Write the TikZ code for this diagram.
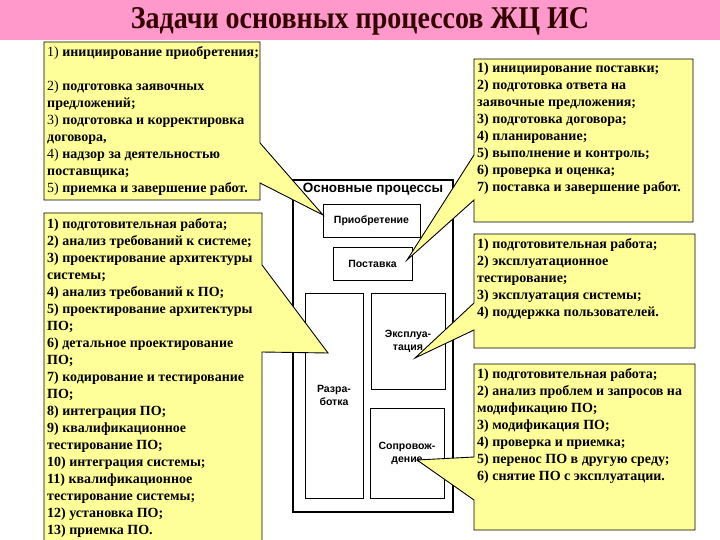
\documentclass[tikz,border=0pt]{standalone}
\usepackage{fontspec}
\setmainfont{Liberation Serif}
\setsansfont{Liberation Sans}
\usetikzlibrary{positioning}

\definecolor{titlepink}{RGB}{255,153,204}
\definecolor{titleink}{RGB}{51,0,0}
\definecolor{noteyellow}{RGB}{255,255,153}

\begin{document}
\begin{tikzpicture}[
    x=1pt, y=-1pt,
    callout/.style={
        fill=noteyellow,
        draw=black,
        line width=0.9pt,
        line join=miter
    },
    notetext/.style={
        anchor=north west,
        align=left,
        inner sep=0pt,
        font=\fontsize{14}{17}\selectfont\bfseries
    },
    procbox/.style={
        draw=black,
        fill=white,
        line width=1pt,
        inner sep=0pt,
        align=center,
        font=\sffamily\bfseries\fontsize{10.5}{13}\selectfont
    },
    outerbox/.style={procbox, line width=2pt},
    titletext/.style={
        text=titleink,
        font=\fontsize{28}{30}\selectfont\bfseries
    }
]
\useasboundingbox (0,0) rectangle (720,540);

% title bar
\fill[titlepink] (0,0) rectangle (720,40);
\node[titletext] (title) at (360,21) {\scalebox{1}[1.13]{Задачи основных процессов ЖЦ ИС}};

% main processes scheme
\node[outerbox, minimum width=160, minimum height=332] (mainproc) at (373,346) {};
\node[font=\sffamily\bfseries\fontsize{13.5}{15}\selectfont, below=1pt of mainproc.north] (maintitle) {Основные процессы};
\node[procbox, minimum width=97, minimum height=32] (acq) at (371.5,221) {Приобретение};
\node[procbox, minimum width=79, minimum height=33] (supply) at (372.5,263.5) {Поставка};
\node[procbox, minimum width=58, minimum height=205] (dev) at (334,395.5) {Разра-\\ботка};
\node[procbox, minimum width=74, minimum height=96] (oper) at (408,341) {Эксплуа-\\тация};
\node[procbox, minimum width=74, minimum height=90] (maint) at (407,453) {Сопровож-\\дение};

% callout tips
\coordinate (tipacq) at (323,215);
\coordinate (tipdev) at (328,353);
\coordinate (tipsup) at (407,260);
\coordinate (tipoper) at (415,358);
\coordinate (tipmaint) at (417,460);

% left callouts
\draw[callout] (44,42) -- (260,42) -- (260,143) -- (tipacq) -- (260,183)
    -- (260,200) -- (44,200) -- cycle;
\node[notetext] (acqnote) at (47,46) {%
{\mdseries 1)} инициирование приобретения;\\
\mbox{}\\
{\mdseries 2)} подготовка заявочных\\
предложений;\\
{\mdseries 3)} подготовка и корректировка\\
договора,\\
{\mdseries 4)} надзор за деятельностью\\
поставщика;\\
{\mdseries 5)} приемка и завершение работ.};

\draw[callout] (44,213) -- (262,213) -- (262,265) -- (tipdev) -- (262,352)
    -- (262,548) -- (44,548) -- cycle;
\node[notetext] (devnote) at (47,218) {%
1) подготовительная работа;\\
2) анализ требований к системе;\\
3) проектирование архитектуры\\
системы;\\
4) анализ требований к ПО;\\
5) проектирование архитектуры\\
ПО;\\
6) детальное проектирование\\
ПО;\\
7) кодирование и тестирование\\
ПО;\\
8) интеграция ПО;\\
9) квалификационное\\
тестирование ПО;\\
10) интеграция системы;\\
11) квалификационное\\
тестирование системы;\\
12) установка ПО;\\
13) приемка ПО.};

% right callouts
\draw[callout] (474,59) -- (693,59) -- (693,222) -- (474,222) -- (474,200)
    -- (tipsup) -- (474,155) -- cycle;
\node[notetext] (supnote) at (477,63) {%
1) инициирование поставки;\\
2) подготовка ответа на\\
заявочные предложения;\\
3) подготовка договора;\\
4) планирование;\\
5) выполнение и контроль;\\
6) проверка и оценка;\\
7) поставка и завершение работ.};

\draw[callout] (474,234) -- (695,234) -- (695,348) -- (474,348) -- (474,330)
    -- (tipoper) -- (474,303) -- cycle;
\node[notetext] (opernote) at (477,238) {%
1) подготовительная работа;\\
2) эксплуатационное\\
тестирование;\\
3) эксплуатация системы;\\
4) поддержка пользователей.};

\draw[callout] (474,364) -- (695,364) -- (695,530) -- (474,530) -- (474,500)
    -- (tipmaint) -- (474,457) -- cycle;
\node[notetext] (maintnote) at (477,368) {%
1) подготовительная работа;\\
2) анализ проблем и запросов на\\
модификацию ПО;\\
3) модификация ПО;\\
4) проверка и приемка;\\
5) перенос ПО в другую среду;\\
6) снятие ПО с эксплуатации.};
\end{tikzpicture}
\end{document}
